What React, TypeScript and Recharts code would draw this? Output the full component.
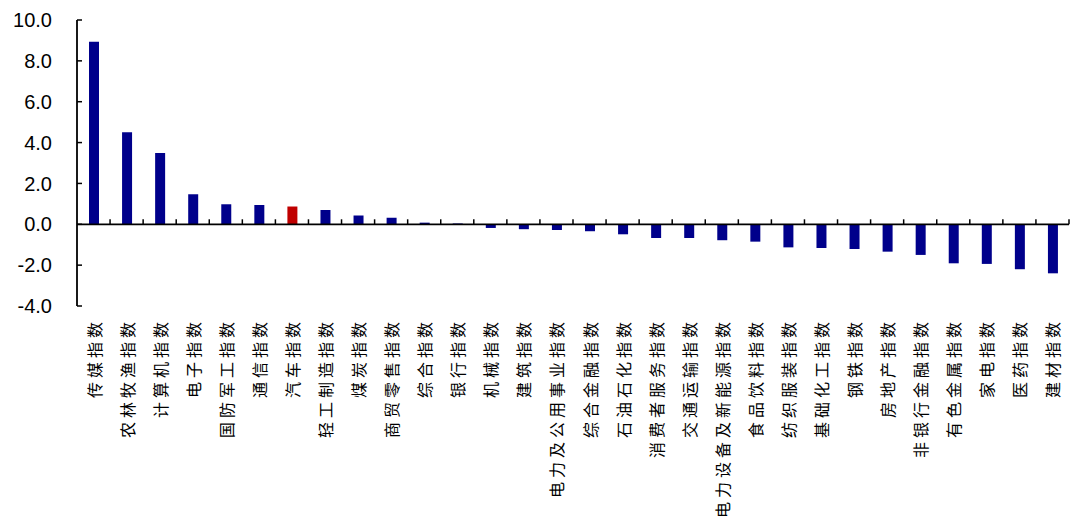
import React from 'react';
import { BarChart, Bar, XAxis, YAxis, ReferenceLine, Cell } from 'recharts';

const categories = [
  '传媒指数', '农林牧渔指数', '计算机指数', '电子指数', '国防军工指数', '通信指数', '汽车指数',
  '轻工制造指数', '煤炭指数', '商贸零售指数', '综合指数', '银行指数', '机械指数', '建筑指数',
  '电力及公用事业指数', '综合金融指数', '石油石化指数', '消费者服务指数', '交通运输指数',
  '电力设备及新能源指数', '食品饮料指数', '纺织服装指数', '基础化工指数', '钢铁指数',
  '房地产指数', '非银行金融指数', '有色金属指数', '家电指数', '医药指数', '建材指数',
];
const values = [
  8.93, 4.5, 3.49, 1.47, 0.98, 0.95, 0.87, 0.7, 0.43, 0.32, 0.08, 0.04, -0.18, -0.24,
  -0.28, -0.34, -0.49, -0.67, -0.67, -0.78, -0.85, -1.13, -1.16, -1.21, -1.34, -1.5,
  -1.91, -1.94, -2.2, -2.4,
];
const highlight = '汽车指数';
const yTicks = [-4, -2, 0, 2, 4, 6, 8, 10];

const data = categories.map((name, i) => ({ name, value: values[i] }));

const BLUE = '#00008B';
const RED = '#C00000';

const XTick = (props: any) => {
  const { x, y, payload } = props;
  return (
    <text
      x={x}
      y={y}
      transform={`rotate(-90, ${x}, ${y})`}
      textAnchor="end"
      dominantBaseline="central"
      fontSize={16}
      letterSpacing={4}
      fill="#000"
      fontFamily="'Noto Sans CJK SC', sans-serif"
    >
      {payload.value}
    </text>
  );
};

const ZeroLine = (props: any) => {
  const { x1, y1, x2, y2 } = props;
  const n = categories.length;
  const step = (x2 - x1) / n;
  const ticks = [];
  for (let i = 1; i <= n; i++) {
    const tx = x1 + i * step;
    ticks.push(<line key={i} x1={tx} x2={tx} y1={y1} y2={y1 - 5} stroke="#000" strokeWidth={1.5} />);
  }
  return (
    <g>
      <line x1={x1} y1={y1} x2={x2} y2={y2} stroke="#000" strokeWidth={1.8} />
      {ticks}
    </g>
  );
};

export default function App() {
  return (
    <div style={{ position: 'absolute', left: 0, top: 0, background: '#fff' }}>
      <BarChart
        width={1077}
        height={530}
        data={data}
        margin={{ top: 20, right: 8, left: 0, bottom: 0 }}
        barCategoryGap={0}
      >
        <XAxis
          dataKey="name"
          interval={0}
          axisLine={false}
          tickLine={false}
          tickSize={0}
          tickMargin={12}
          height={224}
          tick={<XTick />}
        />
        <YAxis
          type="number"
          domain={[-4, 10]}
          ticks={yTicks}
          interval={0}
          width={77}
          tickFormatter={(v: number) => v.toFixed(1)}
          axisLine={{ stroke: '#000', strokeWidth: 1.8 }}
          tickLine={{ stroke: '#000', strokeWidth: 1.5 }}
          tickSize={-5}
          tickMargin={30}
          tick={{ fill: '#000', fontSize: 20, fontFamily: "'Liberation Sans', Arial, sans-serif" }}
        />
        <Bar dataKey="value" barSize={10} isAnimationActive={false}>
          {data.map((d) => (
            <Cell key={d.name} fill={d.name === highlight ? RED : BLUE} />
          ))}
        </Bar>
        <ReferenceLine y={0} shape={<ZeroLine />} />
      </BarChart>
    </div>
  );
}
